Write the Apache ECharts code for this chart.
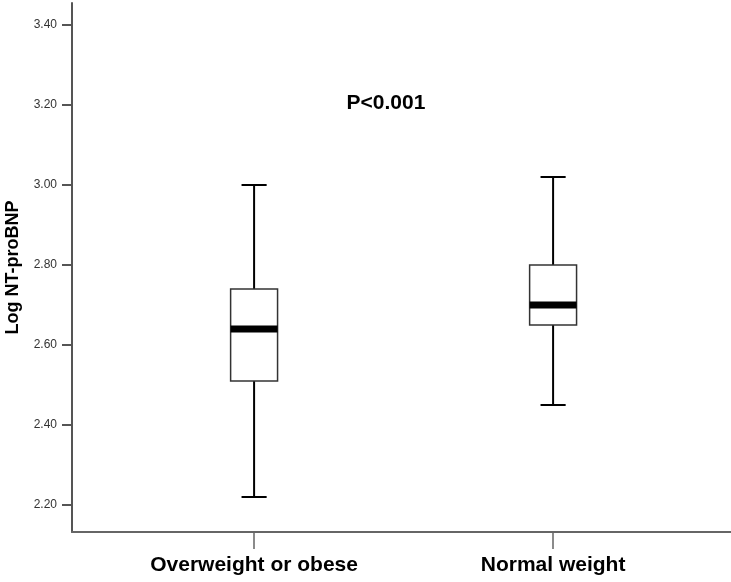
<!DOCTYPE html>
<html>
<head>
<meta charset="utf-8">
<script src="https://cdn.jsdelivr.net/npm/echarts@6/dist/echarts.min.js"></script>
<style>html,body{margin:0;padding:0;background:#fff}#c{width:731px;height:582px}</style>
</head>
<body>
<div id="c"></div>
<script>
const categories = ['Overweight or obese', 'Normal weight'];
const lowerWhisker = [2.22, 2.45];
const q1Values = [2.51, 2.65];
const medianValues = [2.64, 2.70];
const q3Values = [2.74, 2.80];
const upperWhisker = [3.00, 3.02];
const yTickValues = [2.20, 2.40, 2.60, 2.80, 3.00, 3.20, 3.40];
const annotation = 'P<0.001';

const data = categories.map((c, i) => [i + 1, lowerWhisker[i], q1Values[i], medianValues[i], q3Values[i], upperWhisker[i]]);

const chart = echarts.init(document.getElementById('c'), null, {renderer: 'canvas'});
const FONT = '"Liberation Sans", Arial, sans-serif';

function renderItem(params, api) {
  const x = api.value(0);
  const pMin = api.coord([x, api.value(1)]);
  const pQ1 = api.coord([x, api.value(2)]);
  const pMed = api.coord([x, api.value(3)]);
  const pQ3 = api.coord([x, api.value(4)]);
  const pMax = api.coord([x, api.value(5)]);
  const boxW = api.size([0.157, 0])[0];
  const capW = api.size([0.084, 0])[0];
  const cx = pMed[0];
  const lineStyle = {stroke: '#000', lineWidth: 2, fill: null};
  return {
    type: 'group',
    children: [
      {type: 'line', shape: {x1: cx, y1: pMax[1], x2: cx, y2: pQ3[1]}, style: lineStyle},
      {type: 'line', shape: {x1: cx, y1: pQ1[1], x2: cx, y2: pMin[1]}, style: lineStyle},
      {type: 'line', shape: {x1: cx - capW / 2, y1: pMax[1], x2: cx + capW / 2, y2: pMax[1]}, style: lineStyle},
      {type: 'line', shape: {x1: cx - capW / 2, y1: pMin[1], x2: cx + capW / 2, y2: pMin[1]}, style: lineStyle},
      {type: 'rect', shape: {x: cx - boxW / 2, y: pQ3[1], width: boxW, height: pQ1[1] - pQ3[1]}, style: {fill: '#fff', stroke: '#333', lineWidth: 1.5}},
      {type: 'rect', shape: {x: cx - boxW / 2, y: pMed[1] - 3.5, width: boxW, height: 7}, style: {fill: '#000'}}
    ]
  };
}

chart.setOption({
  backgroundColor: '#fff',
  animation: false,
  grid: {left: 72, right: 0, top: 3, bottom: 50, containLabel: false, outerBoundsMode: 'none'},
  xAxis: {
    type: 'value',
    min: 0.391,
    max: 2.595,
    splitLine: {show: false},
    axisLine: {show: true, onZero: false, lineStyle: {color: '#666', width: 2}},
    axisTick: {show: true, length: 17, customValues: [1, 2], lineStyle: {color: '#666', width: 1.5}},
    axisLabel: {
      customValues: [1, 2],
      margin: 23,
      color: '#000',
      fontFamily: FONT,
      fontSize: 21,
      fontWeight: 'bold',
      formatter: v => categories[Math.round(v) - 1] || ''
    }
  },
  yAxis: {
    type: 'value',
    min: 2.1325,
    max: 3.455,
    name: 'Log NT-proBNP',
    nameLocation: 'middle',
    nameGap: 50,
    nameRotate: 90,
    nameTextStyle: {color: '#000', fontFamily: FONT, fontSize: 18, fontWeight: 'bold'},
    splitLine: {show: false},
    axisLine: {show: true, lineStyle: {color: '#555', width: 2}},
    axisTick: {show: true, length: 10, customValues: yTickValues, lineStyle: {color: '#555', width: 2}},
    axisLabel: {
      customValues: yTickValues,
      margin: 15,
      color: '#333',
      fontFamily: FONT,
      fontSize: 12,
      formatter: v => v.toFixed(2)
    }
  },
  graphic: [{
    type: 'text',
    x: 386,
    y: 103,
    style: {text: annotation, fill: '#000', font: 'bold 21px ' + FONT, align: 'center', verticalAlign: 'middle'}
  }],
  series: [{
    type: 'custom',
    renderItem: renderItem,
    data: data,
    encode: {x: 0, y: [1, 2, 3, 4, 5]}
  }]
});
</script>
</body>
</html>
